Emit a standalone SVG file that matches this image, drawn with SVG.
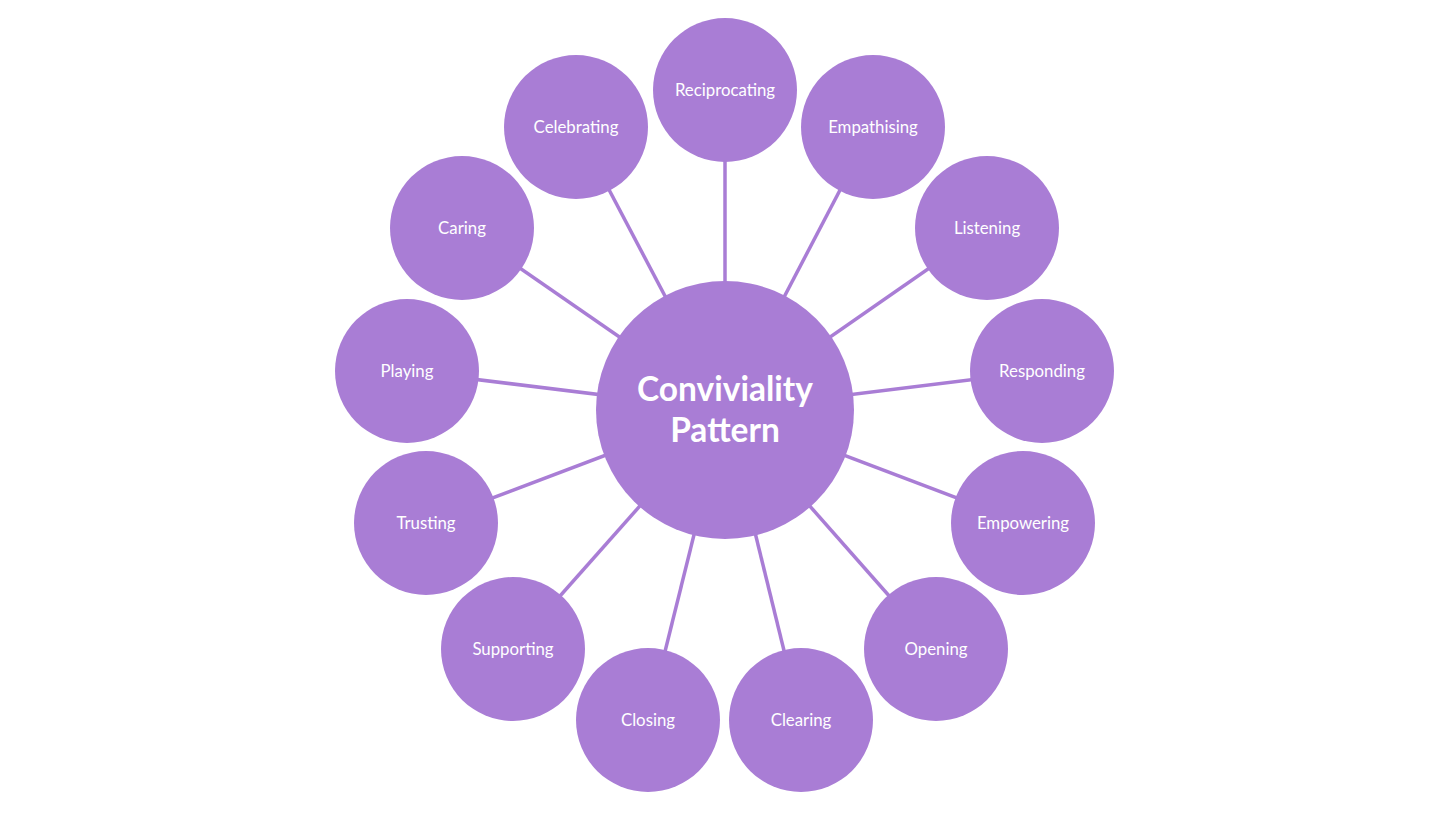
<svg xmlns="http://www.w3.org/2000/svg" width="1456" height="819" viewBox="0 0 1456 819">
<style>
.n{fill:#A97DD5}
.c line{stroke:#A97DD5;stroke-width:3.5}
.t{fill:#fff;font-family:Lato,"Open Sans","Liberation Sans",sans-serif;font-size:16.8px;text-anchor:middle;dominant-baseline:central}
.b{fill:#fff;font-family:Lato,"Open Sans","Liberation Sans",sans-serif;font-size:33.5px;font-weight:bold;text-anchor:middle}
</style>
<rect width="1456" height="819" fill="#fff"/>
<g id="connectors" class="c">
<line x1="725" y1="410" x2="725" y2="90"/>
<line x1="725" y1="410" x2="873" y2="127"/>
<line x1="725" y1="410" x2="987" y2="228"/>
<line x1="725" y1="410" x2="1042" y2="371"/>
<line x1="725" y1="410" x2="1023" y2="523"/>
<line x1="725" y1="410" x2="936" y2="649"/>
<line x1="725" y1="410" x2="801" y2="720"/>
<line x1="725" y1="410" x2="648" y2="720"/>
<line x1="725" y1="410" x2="513" y2="649"/>
<line x1="725" y1="410" x2="426" y2="523"/>
<line x1="725" y1="410" x2="407" y2="371"/>
<line x1="725" y1="410" x2="462" y2="228"/>
<line x1="725" y1="410" x2="576" y2="127"/>
</g>
<g id="center"><circle class="n" cx="725" cy="410" r="129"/><text class="b" x="725" y="401">Conviviality</text><text class="b" x="725" y="442">Pattern</text></g>
<g id="reciprocating"><circle class="n" cx="725" cy="90" r="72"/><text class="t" x="725" y="89">Reciprocating</text></g>
<g id="empathising"><circle class="n" cx="873" cy="127" r="72"/><text class="t" x="873" y="126">Empathising</text></g>
<g id="listening"><circle class="n" cx="987" cy="228" r="72"/><text class="t" x="987" y="227">Listening</text></g>
<g id="responding"><circle class="n" cx="1042" cy="371" r="72"/><text class="t" x="1042" y="370">Responding</text></g>
<g id="empowering"><circle class="n" cx="1023" cy="523" r="72"/><text class="t" x="1023" y="522">Empowering</text></g>
<g id="opening"><circle class="n" cx="936" cy="649" r="72"/><text class="t" x="936" y="648">Opening</text></g>
<g id="clearing"><circle class="n" cx="801" cy="720" r="72"/><text class="t" x="801" y="719">Clearing</text></g>
<g id="closing"><circle class="n" cx="648" cy="720" r="72"/><text class="t" x="648" y="719">Closing</text></g>
<g id="supporting"><circle class="n" cx="513" cy="649" r="72"/><text class="t" x="513" y="648">Supporting</text></g>
<g id="trusting"><circle class="n" cx="426" cy="523" r="72"/><text class="t" x="426" y="522">Trusting</text></g>
<g id="playing"><circle class="n" cx="407" cy="371" r="72"/><text class="t" x="407" y="370">Playing</text></g>
<g id="caring"><circle class="n" cx="462" cy="228" r="72"/><text class="t" x="462" y="227">Caring</text></g>
<g id="celebrating"><circle class="n" cx="576" cy="127" r="72"/><text class="t" x="576" y="126">Celebrating</text></g>
</svg>
